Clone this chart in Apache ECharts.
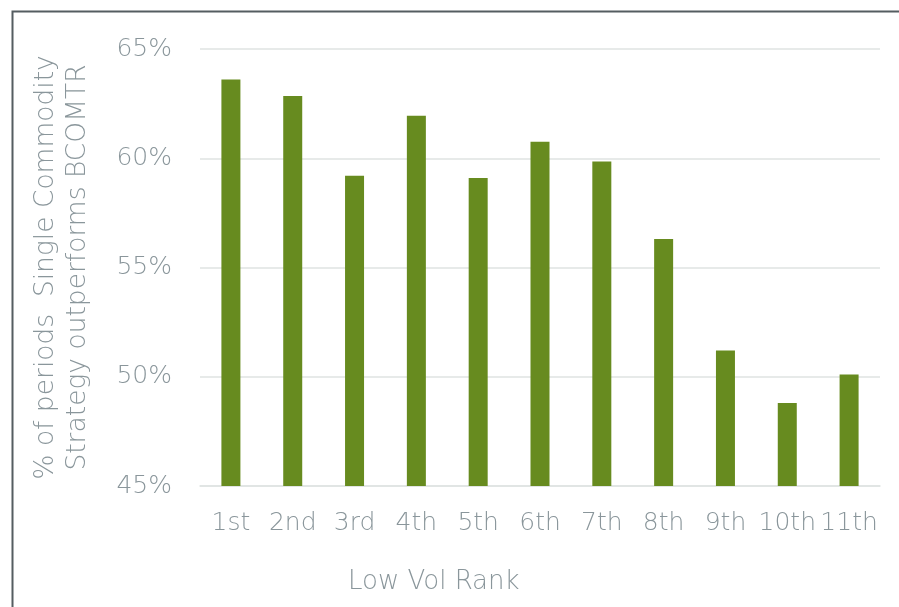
<!DOCTYPE html>
<html><head><meta charset="utf-8">
<script src="https://cdn.jsdelivr.net/npm/echarts@6/dist/echarts.min.js"></script>
<style>html,body{margin:0;padding:0;background:#fff}#c{width:899px;height:607px}</style>
</head><body><div id="c"></div>
<script>
const categories = ['1st','2nd','3rd','4th','5th','6th','7th','8th','9th','10th','11th'];
const values = [63.6, 62.85, 59.2, 61.95, 59.1, 60.75, 59.85, 56.3, 51.2, 48.8, 50.1];
const yTicks = [45, 50, 55, 60, 65];
const yTitle = '% of periods  Single Commodity\nStrategy outperforms BCOMTR';
const xTitle = 'Low Vol Rank';

const txt = '#8a969b';
const font = '"DejaVu Sans", sans-serif';
const fw = 200;
const chart = echarts.init(document.getElementById('c'));
chart.setOption({
  animation: false,
  backgroundColor: '#fff',
  grid: {left: 200, right: 19, top: 49, bottom: 121, containLabel: false},
  xAxis: {
    type: 'category', data: categories,
    axisLine: {show: true, lineStyle: {color: '#dfe3e2', width: 1.5}},
    axisTick: {show: false},
    axisLabel: {color: txt, fontSize: 25, fontFamily: font, fontWeight: fw, margin: 25, interval: 0}
  },
  yAxis: {
    type: 'value', min: yTicks[0], max: yTicks[yTicks.length-1], interval: 5,
    name: yTitle, nameLocation: 'middle', nameGap: 106, nameRotate: 90,
    nameTextStyle: {color: txt, fontSize: 26.5, fontFamily: font, fontWeight: fw, lineHeight: 32},
    axisLine: {show: false}, axisTick: {show: false},
    splitLine: {lineStyle: {color: '#dfe3e2', width: 1.5}},
    axisLabel: {color: txt, fontSize: 25, fontFamily: font, fontWeight: fw, margin: 28, formatter: v => v + '%'}
  },
  graphic: [
    {type: 'polyline', shape: {points: [[12.5, 607], [12.5, 11.5], [899, 11.5]]}, style: {stroke: '#555d61', lineWidth: 2, fill: null}},
    {type: 'text', left: 348, top: 569, style: {text: xTitle, fill: txt, fontSize: 26, fontFamily: font, fontWeight: fw}}
  ],
  series: [{
    type: 'bar', data: values, barWidth: 19,
    itemStyle: {color: '#678b1f'}
  }]
});
</script></body></html>
